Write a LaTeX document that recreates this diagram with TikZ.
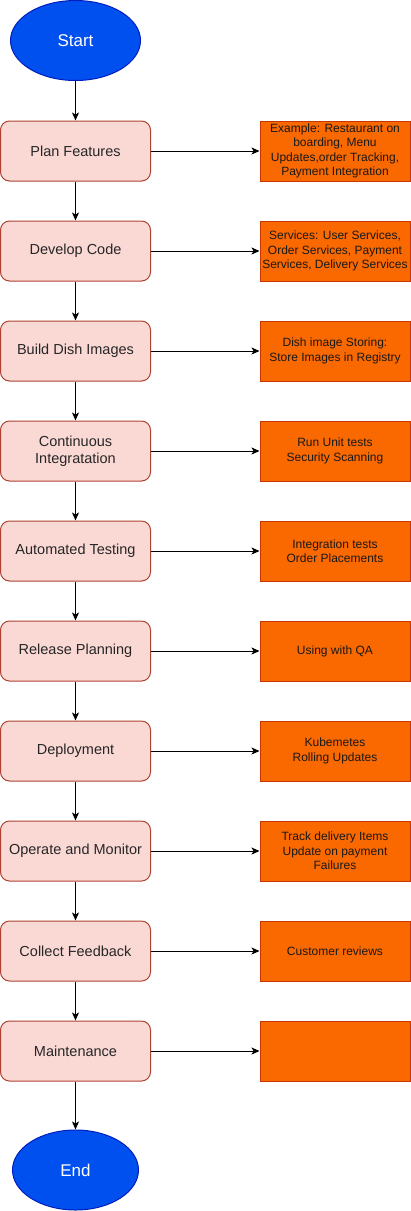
\documentclass[tikz,border=0pt]{standalone}
\usepackage{fontspec}
\setmainfont{Liberation Sans}
\usetikzlibrary{shapes.geometric,arrows.meta}
\definecolor{termfill}{HTML}{0050EF}
\definecolor{termdraw}{HTML}{001DBC}
\definecolor{stepfill}{HTML}{FAD9D5}
\definecolor{stepdraw}{HTML}{AE4132}
\definecolor{notefill}{HTML}{FA6800}
\definecolor{notedraw}{HTML}{C73500}

\begin{document}
\begin{tikzpicture}[x=1pt, y=-1pt, line width=1pt,
  term/.style={ellipse, draw=termdraw, fill=termfill, text=white, inner sep=0pt, font=\fontsize{17}{20}\selectfont},
  stepbox/.style={draw=stepdraw, fill=stepfill, rounded corners=9pt, minimum width=150pt, minimum height=60pt, inner sep=2pt, align=center, text=black!85, font=\fontsize{14.5}{17.5}\selectfont},
  note/.style={draw=notedraw, fill=notefill, minimum width=150pt, minimum height=60pt, inner sep=2pt, align=center, text=black!90, font=\fontsize{12}{14.5}\selectfont},
  arr/.style={-{Stealth[length=8pt, width=7pt, inset=2pt]}, color=black}]
\useasboundingbox (0,0) rectangle (411,1211);
% ---- main flow
\node[term, minimum width=130pt, minimum height=80pt] (start) at (75.5,40.5) {Start};
\node[stepbox] (plan) at (75.5,151) {Plan Features};
\node[stepbox] (dev) at (75.5,251) {Develop Code};
\node[stepbox] (build) at (75.5,351) {Build Dish Images};
\node[stepbox] (ci) at (75.5,451) {Continuous\\ Integratation};
\node[stepbox] (test) at (75.5,551) {Automated Testing};
\node[stepbox] (rel) at (75.5,651) {Release Planning};
\node[stepbox] (dep) at (75.5,751) {Deployment};
\node[stepbox] (ops) at (75.5,851) {Operate and Monitor};
\node[stepbox] (fb) at (75.5,951) {Collect Feedback};
\node[stepbox] (mnt) at (75.5,1051) {Maintenance};
\node[term, minimum width=126pt, minimum height=80pt] (end) at (75.5,1170) {End};
% ---- notes on the right
\node[note] (planN) at (335,151) {Example: Restaurant on\\ boarding, Menu\\ Updates,order Tracking,\\ Payment Integration};
\node[note] (devN) at (335,251) {Services: User Services,\\ Order Services, Payment\\ Services, Delivery Services};
\node[note] (buildN) at (335,351) {Dish image Storing:\\ Store Images in Registry};
\node[note] (ciN) at (335,451) {Run Unit tests\\ Security Scanning};
\node[note] (testN) at (335,551) {Integration tests\\ Order Placements};
\node[note] (relN) at (335,651) {Using with QA};
\node[note] (depN) at (335,751) {Kubemetes\\ Rolling Updates};
\node[note] (opsN) at (335,851) {Track delivery Items\\ Update on payment\\ Failures};
\node[note] (fbN) at (335,951) {Customer reviews};
\node[note] (mntN) at (335,1051) {};
% ---- connectors
\foreach \a/\b in {start/plan, plan/dev, dev/build, build/ci, ci/test, test/rel, rel/dep, dep/ops, ops/fb, fb/mnt, mnt/end}
  \draw[arr] (\a) -- (\b);
\foreach \s in {plan, dev, build, ci, test, rel, dep, ops, fb, mnt}
  \draw[arr] (\s) -- (\s N);
\end{tikzpicture}
\end{document}
